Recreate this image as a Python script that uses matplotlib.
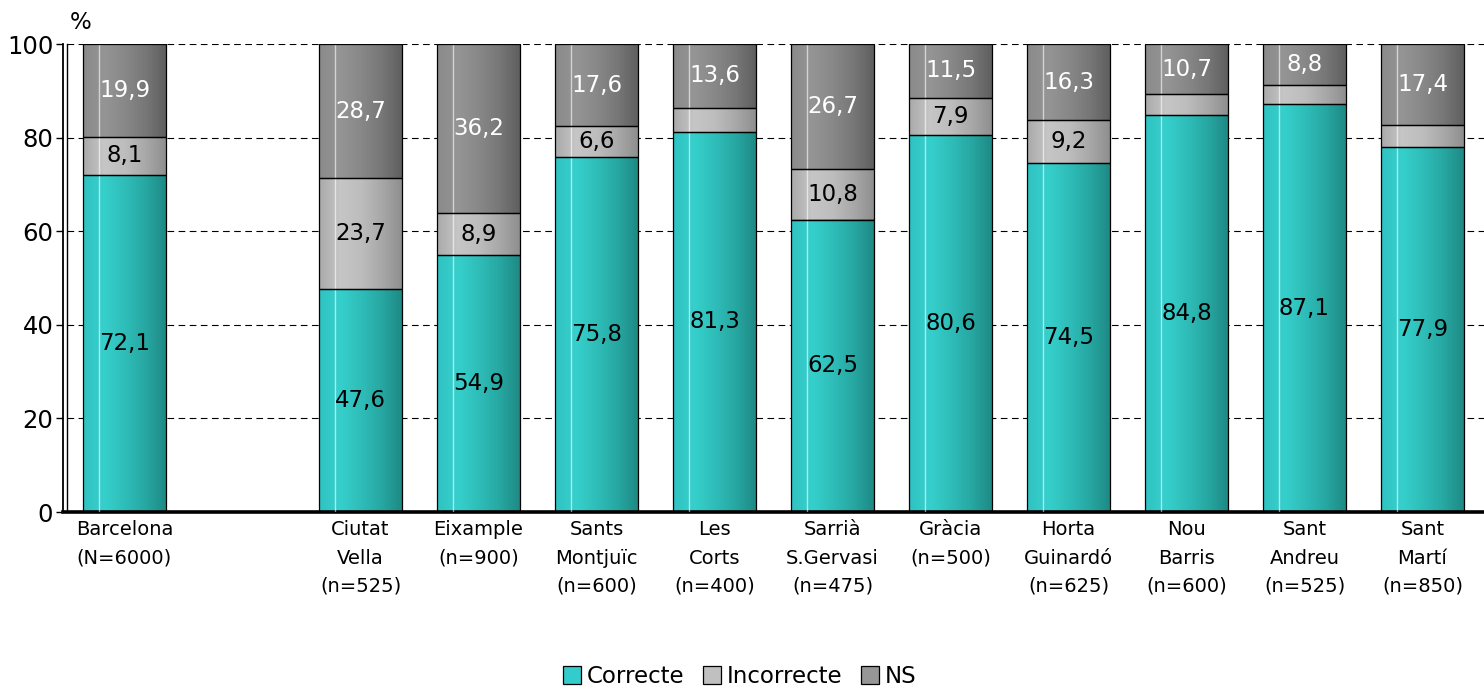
import numpy as np
import matplotlib
matplotlib.use("Agg")
import matplotlib.pyplot as plt
from matplotlib.colors import LinearSegmentedColormap
from matplotlib.patches import Patch
from matplotlib.lines import Line2D

plt.rcParams['font.family'] = ['DejaVu Sans']

categories = ["Barcelona\n(N=6000)", "Ciutat\nVella\n(n=525)", "Eixample\n(n=900)",
              "Sants\nMontjuïc\n(n=600)", "Les\nCorts\n(n=400)", "Sarrià\nS.Gervasi\n(n=475)",
              "Gràcia\n(n=500)", "Horta\nGuinardó\n(n=625)", "Nou\nBarris\n(n=600)",
              "Sant\nAndreu\n(n=525)", "Sant\nMartí\n(n=850)"]
correcte = [72.1, 47.6, 54.9, 75.8, 81.3, 62.5, 80.6, 74.5, 84.8, 87.1, 77.9]
incorrecte = [8.1, 23.7, 8.9, 6.6, 5.1, 10.8, 7.9, 9.2, 4.5, 4.1, 4.7]
ns = [19.9, 28.7, 36.2, 17.6, 13.6, 26.7, 11.5, 16.3, 10.7, 8.8, 17.4]
series_names = ["Correcte", "Incorrecte", "NS"]
yticks = [0, 20, 40, 60, 80, 100]

positions = np.array([0] + list(range(2, 12)), dtype=float)
width = 0.71

W, H = 1484, 690
fig = plt.figure(figsize=(W / 100, H / 100), dpi=100)
left_px, right_px, bot_px, top_px = 63, 1484, 512, 44
ax = fig.add_axes([left_px / W, (H - bot_px) / H, (right_px - left_px) / W, (bot_px - top_px) / H])

base_colors = ["#33CCCC", "#C0C0C0", "#969696"]
grads = [
    ["#30c2c2", "#36d0cc", "#2fbdb9", "#27a7a2", "#1e8883"],
    ["#a9a9a9", "#c6c6c6", "#bdbdbd", "#a8a8a8", "#8e8e8e"],
    ["#8a8a8a", "#959595", "#888888", "#777777", "#5e5e5e"],
]
cmaps = [LinearSegmentedColormap.from_list("g%d" % i, g) for i, g in enumerate(grads)]
text_colors = ["black", "black", "white"]
grad_img = np.linspace(0, 1, 200).reshape(1, -1)

data = [correcte, incorrecte, ns]
bottoms = np.zeros(len(positions))
for s, vals in enumerate(data):
    vals = np.array(vals)
    for i, x in enumerate(positions):
        b = bottoms[i]
        t = b + vals[i]
        ax.imshow(grad_img, cmap=cmaps[s], aspect='auto',
                  extent=(x - width / 2, x + width / 2, b, t), zorder=2,
                  interpolation='bilinear')
        hx = x - width / 2 + 0.19 * width
        ax.plot([hx, hx], [b, t], color='white', lw=1.0, alpha=0.6, zorder=3)
        if vals[i] >= 6:
            ax.text(x, b + vals[i] / 2, ("%.1f" % vals[i]).replace('.', ','),
                    ha='center', va='center', fontsize=16.5, color=text_colors[s], zorder=5)
    ax.bar(positions, vals, width=width, bottom=bottoms, facecolor='none',
           edgecolor='black', linewidth=0.9, zorder=4)
    bottoms += vals

unit_px = 118.0
x0 = -0.5 - 2.5 / unit_px
ax.set_xlim(x0, x0 + (right_px - left_px) / unit_px)
ax.set_ylim(0, 100)
ax.set_yticks(yticks)
ax.set_yticklabels([str(v) for v in yticks], fontsize=17.5)
ax.set_xticks(positions)
ax.set_xticklabels(categories, fontsize=14, linespacing=1.62, va='top')
ax.tick_params(axis='x', length=0, pad=6)
ax.tick_params(axis='y', length=5, width=1, pad=2)

for v in yticks[1:]:
    ax.axhline(v, xmin=3.5 / (right_px - left_px), color='black', lw=0.8,
               ls=(0, (6, 4)), zorder=1)

for sp in ['top', 'right']:
    ax.spines[sp].set_visible(False)
ax.spines['left'].set_linewidth(1.3)
ax.spines['bottom'].set_linewidth(2.6)

# inner wall line (3D effect)
fig.add_artist(Line2D([(left_px + 3.5) / W] * 2, [(H - bot_px) / H, (H - top_px) / H],
                      transform=fig.transFigure, color='black', lw=1.0))

fig.text(70 / W, 1 - 34 / H, "%", fontsize=16.5, ha='left', va='bottom')

handles = [Patch(facecolor=c, edgecolor='black', linewidth=0.9) for c in base_colors]
fig.legend(handles, series_names, loc='lower center', bbox_to_anchor=(0.4985, -0.027),
           ncol=3, frameon=False, fontsize=16.5, handlelength=0.8, handleheight=0.8,
           handletextpad=0.25, columnspacing=0.8)

fig.savefig("out.png", dpi=100)
